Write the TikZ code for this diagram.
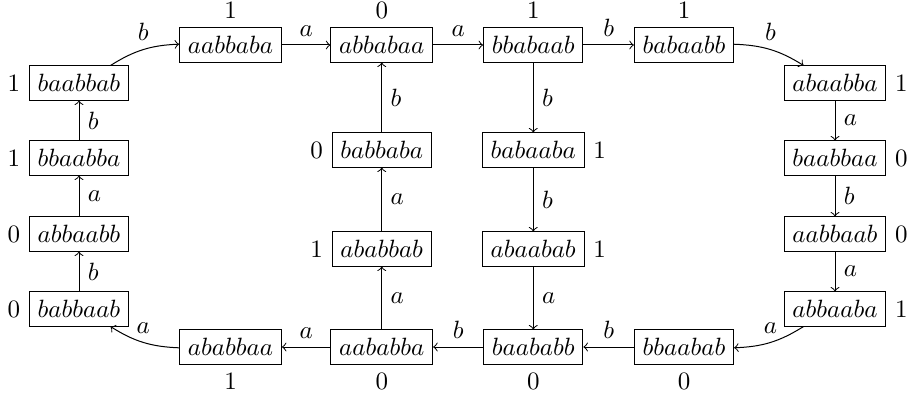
\documentclass[tikz,border=0pt]{standalone}
\begin{document}
\begin{tikzpicture}[
  st/.style={draw, rectangle},
  arr/.style={->},
  el/.style={font=\normalsize}
]
\useasboundingbox (0,0) rectangle (364pt,158.4pt);
% top row
\node[st, label=above:1] (aabbaba) at (92.2pt,140.4pt) {$aabbaba$};
\node[st, label=above:0] (abbabaa) at (152.7pt,140.4pt) {$abbabaa$};
\node[st, label=above:1] (bbabaab) at (213.3pt,140.4pt) {$bbabaab$};
\node[st, label=above:1] (babaabb) at (273.6pt,140.4pt) {$babaabb$};
% right column
\node[st, label=right:1] (abaabba) at (334pt,125.2pt) {$abaabba$};
\node[st, label=right:0] (baabbaa) at (334pt,95.2pt) {$baabbaa$};
\node[st, label=right:0] (aabbaab) at (334pt,64.8pt) {$aabbaab$};
\node[st, label=right:1] (abbaaba) at (334pt,34.8pt) {$abbaaba$};
% bottom row
\node[st, label=below:0] (bbaabab) at (273.6pt,19.6pt) {$bbaabab$};
\node[st, label=below:0] (baababb) at (213.3pt,19.6pt) {$baababb$};
\node[st, label=below:0] (aababba) at (152.7pt,19.6pt) {$aababba$};
\node[st, label=below:1] (ababbaa) at (92.2pt,19.6pt) {$ababbaa$};
% left column
\node[st, label=left:0] (babbaab) at (31.6pt,34.8pt) {$babbaab$};
\node[st, label=left:0] (abbaabb) at (31.6pt,64.8pt) {$abbaabb$};
\node[st, label=left:1] (bbaabba) at (31.6pt,95.2pt) {$bbaabba$};
\node[st, label=left:1] (baabbab) at (31.6pt,125.2pt) {$baabbab$};
% middle columns
\node[st, label=left:0] (babbaba) at (152.7pt,98.4pt) {$babbaba$};
\node[st, label=left:1] (ababbab) at (152.7pt,58.8pt) {$ababbab$};
\node[st, label=right:1] (babaaba) at (213.3pt,98.4pt) {$babaaba$};
\node[st, label=right:1] (abaabab) at (213.3pt,58.8pt) {$abaabab$};
% outer cycle
\draw[arr] (baabbab) to[bend left=15] node[midway, above] {$b$} (aabbaba);
\draw[arr] (aabbaba) -- node[above] {$a$} (abbabaa);
\draw[arr] (abbabaa) -- node[above] {$a$} (bbabaab);
\draw[arr] (bbabaab) -- node[above] {$b$} (babaabb);
\draw[arr] (babaabb) to[bend left=15] node[midway, above] {$b$} (abaabba);
\draw[arr] (abaabba) -- node[right] {$a$} (baabbaa);
\draw[arr] (baabbaa) -- node[right] {$b$} (aabbaab);
\draw[arr] (aabbaab) -- node[right] {$a$} (abbaaba);
\draw[arr] (abbaaba) to[bend left=15] node[midway, above] {$a$} (bbaabab);
\draw[arr] (bbaabab) -- node[above] {$b$} (baababb);
\draw[arr] (baababb) -- node[above] {$b$} (aababba);
\draw[arr] (aababba) -- node[above] {$a$} (ababbaa);
\draw[arr] (ababbaa) to[bend left=15] node[midway, above] {$a$} (babbaab);
\draw[arr] (babbaab) -- node[right] {$b$} (abbaabb);
\draw[arr] (abbaabb) -- node[right] {$a$} (bbaabba);
\draw[arr] (bbaabba) -- node[right] {$b$} (baabbab);
% inner paths
\draw[arr] (aababba) -- node[right] {$a$} (ababbab);
\draw[arr] (ababbab) -- node[right] {$a$} (babbaba);
\draw[arr] (babbaba) -- node[right] {$b$} (abbabaa);
\draw[arr] (bbabaab) -- node[right] {$b$} (babaaba);
\draw[arr] (babaaba) -- node[right] {$b$} (abaabab);
\draw[arr] (abaabab) -- node[right] {$a$} (baababb);
\end{tikzpicture}
\end{document}
